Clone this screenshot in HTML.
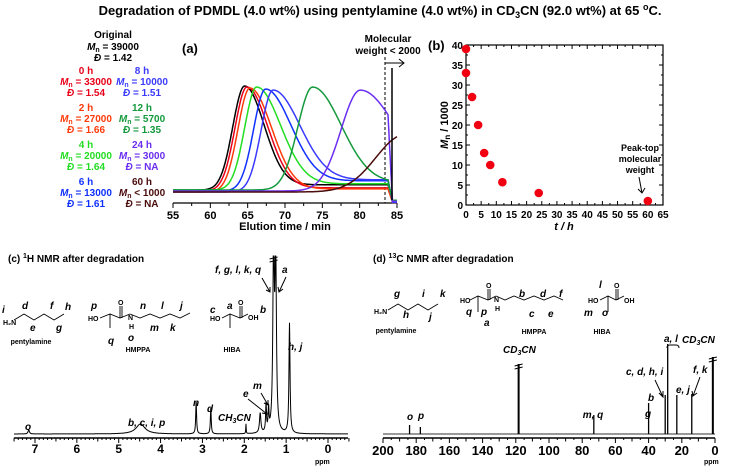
<!DOCTYPE html>
<html><head><meta charset="utf-8"><style>
html,body{margin:0;padding:0;background:#fff;}
svg{display:block;font-family:"Liberation Sans",Arial,sans-serif;font-weight:bold;}
.it{font-style:italic;}
</style></head><body>
<svg id="fig" width="734" height="473" viewBox="0 0 734 473" xmlns="http://www.w3.org/2000/svg">
<text x="380" y="15" font-size="13" text-anchor="middle">Degradation of PDMDL (4.0 wt%) using pentylamine (4.0 wt%) in CD<tspan font-size="9" dy="3">3</tspan><tspan dy="-3">CN (92.0 wt%) at 65 </tspan><tspan font-size="9" dy="-5">o</tspan><tspan dy="5">C.</tspan></text>

<g id="legendA" font-size="10" text-anchor="middle">
<text x="113" y="38">Original</text>
<text x="113" y="50"><tspan class="it">M</tspan><tspan font-size="7" dy="2">n</tspan><tspan dy="-2"> = 39000</tspan></text>
<text x="113" y="61"><tspan class="it">Đ</tspan> = 1.42</text>
<g fill="#e8001a"><text x="86" y="74">0 h</text><text x="86" y="85"><tspan class="it">M</tspan><tspan font-size="7" dy="2">n</tspan><tspan dy="-2"> = 33000</tspan></text><text x="86" y="96"><tspan class="it">Đ</tspan> = 1.54</text></g>
<g fill="#ff3a0a"><text x="86" y="111">2 h</text><text x="86" y="122"><tspan class="it">M</tspan><tspan font-size="7" dy="2">n</tspan><tspan dy="-2"> = 27000</tspan></text><text x="86" y="133"><tspan class="it">Đ</tspan> = 1.66</text></g>
<g fill="#22dd22"><text x="86" y="148">4 h</text><text x="86" y="159"><tspan class="it">M</tspan><tspan font-size="7" dy="2">n</tspan><tspan dy="-2"> = 20000</tspan></text><text x="86" y="170"><tspan class="it">Đ</tspan> = 1.64</text></g>
<g fill="#1030ff"><text x="86" y="185">6 h</text><text x="86" y="196"><tspan class="it">M</tspan><tspan font-size="7" dy="2">n</tspan><tspan dy="-2"> = 13000</tspan></text><text x="86" y="207"><tspan class="it">Đ</tspan> = 1.61</text></g>
<g fill="#3a3aff"><text x="142" y="74">8 h</text><text x="142" y="85"><tspan class="it">M</tspan><tspan font-size="7" dy="2">n</tspan><tspan dy="-2"> = 10000</tspan></text><text x="142" y="96"><tspan class="it">Đ</tspan> = 1.51</text></g>
<g fill="#139a3c"><text x="142" y="111">12 h</text><text x="142" y="122"><tspan class="it">M</tspan><tspan font-size="7" dy="2">n</tspan><tspan dy="-2"> = 5700</tspan></text><text x="142" y="133"><tspan class="it">Đ</tspan> = 1.35</text></g>
<g fill="#6a2ef0"><text x="142" y="148">24 h</text><text x="142" y="159"><tspan class="it">M</tspan><tspan font-size="7" dy="2">n</tspan><tspan dy="-2"> = 3000</tspan></text><text x="142" y="170"><tspan class="it">Đ</tspan> = NA</text></g>
<g fill="#4a0c0c"><text x="142" y="185">60 h</text><text x="142" y="196"><tspan class="it">M</tspan><tspan font-size="7" dy="2">n</tspan><tspan dy="-2"> &lt; 1000</tspan></text><text x="142" y="207"><tspan class="it">Đ</tspan> = NA</text></g>
</g>

<g id="chartA"></g>
<text x="182" y="53" font-size="13">(a)</text>
<text x="388" y="42" font-size="10" text-anchor="middle">Molecular</text>
<text x="388" y="54" font-size="10" text-anchor="middle">weight &lt; 2000</text>
<text x="285" y="230" font-size="11" text-anchor="middle">Elution time / min</text>

<g id="chartB"></g>
<text x="428" y="50" font-size="13">(b)</text>
<text x="564" y="230" font-size="11" text-anchor="middle" class="it">t / h</text>
<text transform="translate(448,125) rotate(-90)" font-size="11" text-anchor="middle"><tspan class="it">M</tspan><tspan font-size="8" dy="2">n</tspan><tspan dy="-2"> / 1000</tspan></text>
<text x="640" y="151" font-size="9" text-anchor="middle">Peak-top</text>
<text x="640" y="162" font-size="9" text-anchor="middle">molecular</text>
<text x="640" y="173" font-size="9" text-anchor="middle">weight</text>
<path d="M639,177 L642,193 M638,189 L642,193 L645,188" stroke="#000" fill="none" stroke-width="1"/>

<!-- panel c -->
<text x="8" y="262" font-size="10">(c) <tspan font-size="7" dy="-4">1</tspan><tspan dy="4">H NMR after degradation</tspan></text>
<g stroke="#000" fill="none" stroke-width="0.9">
<path d="M14,320 L24,314 L34,320 L44,314 L54,320 L64,314"/>
<path d="M100,318 L110,314 L120,318 L130,314 M110,314 L110,328 M120,318 L120,306 M122,318 L122,306 M130,314 L140,318 L150,314 L160,318 L170,314 L180,318 L190,313"/>
<path d="M222,318 L230,314 L240,318 L248,314 M230,314 L230,328 M240,318 L240,306 M242,318 L242,306"/>
</g>
<g font-size="7">
<text x="3" y="325">H₂N</text><text x="88" y="321">HO</text><text x="118" y="305">O</text><text x="128" y="320">N</text><text x="129" y="329">H</text>
<text x="210" y="321">HO</text><text x="238" y="305">O</text><text x="248" y="320">OH</text>
<text x="31" y="344" text-anchor="middle">pentylamine</text><text x="138" y="352" text-anchor="middle">HMPPA</text><text x="232" y="352" text-anchor="middle">HIBA</text>
</g>
<g font-size="10" class="it">
<text x="2" y="313">i</text><text x="22" y="309">d</text><text x="50" y="309">f</text><text x="65" y="310">h</text><text x="30" y="331">e</text><text x="56" y="331">g</text>
<text x="91" y="309">p</text><text x="108" y="344">q</text><text x="128" y="341">o</text><text x="140" y="309">n</text><text x="161" y="309">l</text><text x="180" y="309">j</text><text x="150" y="331">m</text><text x="170" y="331">k</text>
<text x="210" y="313">c</text><text x="227" y="309">a</text><text x="260" y="313">b</text>
<text x="215" y="273">f, g, l, k, q</text><text x="282" y="273">a</text><text x="288" y="350">h, j</text>
<text x="218" y="421">CH<tspan font-size="7" dy="2">3</tspan><tspan dy="-2">CN</tspan></text>
<text x="243" y="397">e</text><text x="253" y="389">m</text><text x="193" y="406">n</text><text x="207" y="412">d</text>
<text x="128" y="426">b, c, i, p</text><text x="25" y="430">o</text>
</g>
<path d="M262,278 L270,292 M266,290 L270,292 L270,287 M286,277 L279,292 M278,287 L279,292 L283,289 M248,399 L267,414 M262,413 L267,414 L266,409 M261,393 L268,405 M264,403 L268,405 L268,400" stroke="#000" fill="none"/>
<g id="chartC"></g>
<text x="315" y="464" font-size="7">ppm</text>

<!-- panel d -->
<text x="373" y="262" font-size="10">(d) <tspan font-size="7" dy="-4">13</tspan><tspan dy="4">C NMR after degradation</tspan></text>
<g stroke="#000" fill="none" stroke-width="0.9">
<path d="M388,310 L398,304 L408,310 L418,304 L428,310 L438,304"/>
<path d="M470,300 L478,296 L488,300 L496,296 M478,296 L478,312 M488,300 L488,289 M490,300 L490,289 M496,296 L505,300 L514,296 L524,300 L534,296 L544,300 L554,296 L563,300"/>
<path d="M600,300 L608,296 L616,300 L624,296 M608,296 L608,312 M616,300 L616,289 M618,300 L618,289"/>
</g>
<g font-size="7">
<text x="374" y="314">H₂N</text><text x="460" y="303">HO</text><text x="486" y="288">O</text><text x="494" y="302">N</text><text x="495" y="311">H</text>
<text x="588" y="303">HO</text><text x="614" y="288">O</text><text x="624" y="303">OH</text>
<text x="396" y="333" text-anchor="middle">pentylamine</text><text x="534" y="334" text-anchor="middle">HMPPA</text><text x="602" y="334" text-anchor="middle">HIBA</text>
</g>
<g font-size="10" class="it">
<text x="394" y="297">g</text><text x="422" y="297">i</text><text x="440" y="297">k</text><text x="403" y="318">h</text><text x="429" y="320">j</text>
<text x="466" y="315">q</text><text x="481" y="315">p</text><text x="484" y="326">a</text><text x="519" y="297">b</text><text x="540" y="297">d</text><text x="559" y="297">f</text><text x="529" y="317">c</text><text x="548" y="317">e</text>
<text x="599" y="288">l</text><text x="584" y="316">m</text><text x="602" y="316">o</text>
<text x="503" y="353">CD<tspan font-size="7" dy="2">3</tspan><tspan dy="-2">CN</tspan></text>
<text x="410" y="420" text-anchor="middle">o</text><text x="421" y="419" text-anchor="middle">p</text><text x="593" y="418" text-anchor="middle">m, q</text><text x="645" y="417">g</text><text x="648" y="401">b</text>
<text x="626" y="375">c, d, h, i</text><text x="664" y="342">a, l</text><text x="676" y="393">e, j</text><text x="693" y="373">f, k</text>
<text x="682" y="343">CD<tspan font-size="7" dy="2">3</tspan><tspan dy="-2">CN</tspan></text>
</g>
<path d="M655,380 L663,397 M659,393 L663,397 L663,391 M700,377 L693,396 M692,391 L693,396 L697,393 M667,348 Q667,345 670,345 L676,345 Q679,345 679,348" stroke="#000" fill="none"/>
<g id="chartD"></g>
<text x="704" y="464" font-size="7">ppm</text>
</svg>
<script>
// ---------- chart A data ----------
const seriesNames = ["original","0h","2h","4h","6h","8h","12h","24h","60h"];
const seriesColors = ["#000000","#e8001a","#ff3a0a","#22dd22","#1030ff","#3a3aff","#139a3c","#6a2ef0","#4a0c0c"];
const peakTimes = [64.6,64.9,65.3,66.2,67.4,68.4,73.7,80.1,86.0];
const peakHeights = [1.0,1.0,1.0,0.99,0.98,0.98,0.99,0.97,0.55];
const sigmaLeft = [1.6,1.6,1.6,1.6,1.6,1.6,2.0,2.6,3.8];
const sigmaRight = [2.6,2.8,2.9,3.2,3.4,3.6,3.8,4.5,2.0];
const tailLevels = [0.05,0.03,0.03,0.06,0.1,0.12,0.07,0.15,0];
const xTicksA = [55,60,65,70,75,80,85];
// ---------- chart B data ----------
const timesB = [0,0,2,4,6,8,12,24,60];
const mnB = [39,33,27,20,13,10,5.7,3,1];
const xTicksB = [0,5,10,15,20,25,30,35,40,45,50,55,60,65];
const yTicksB = [0,5,10,15,20,25,30,35,40];
// ---------- chart C data ----------
const hShifts = [7.15,4.48,3.15,2.80,1.96,1.62,1.48,1.42,1.30,1.25,0.92];
const hHeights = [4,10,33,26,10,20,28,22,185,175,110];
const hWidths = [0.02,0.13,0.012,0.012,0.006,0.02,0.012,0.012,0.02,0.02,0.015];
const xTicksC = [7,6,5,4,3,2,1,0];
// ---------- chart D data ----------
const cShifts = [184,177.5,118.3,73,40,30,28.5,23,14,1.3];
const cHeights = [9,7,70,19,31,39,90,39,40,77];
const xTicksD = [200,180,160,140,120,100,80,60,40,20,0];

const NS="http://www.w3.org/2000/svg";
function mk(tag,attrs,parent){const e=document.createElementNS(NS,tag);for(const k in attrs)e.setAttribute(k,attrs[k]);parent.appendChild(e);return e;}

// ===== Chart A =====
(function(){
const g=document.getElementById('chartA');
const xA=t=>173+(t-55)*(397-173)/30;
const base=190, amp=104;
const yA=v=>base-v*amp;
mk('line',{x1:173,y1:203,x2:397,y2:203,stroke:'#000','stroke-width':1.2},g);
for(let t=55;t<=85.01;t+=2.5){const major=Math.abs(t%5)<0.01;mk('line',{x1:xA(t),y1:203,x2:xA(t),y2:major?208:206,stroke:'#000'},g);}
xTicksA.forEach(t=>{const tx=mk('text',{x:xA(t),y:219,'font-size':11,'text-anchor':'middle'},g);tx.textContent=t;

});
mk('line',{x1:385,y1:57,x2:385,y2:203,stroke:'#000','stroke-dasharray':'3,2'},g);
mk('path',{d:'M385,63 L404,63 M399,59 L404,63 L399,67',stroke:'#000',fill:'none'},g);
for(let i=0;i<seriesNames.length;i++){
 let d='';
 for(let t=55;t<=85;t+=0.1){
  const dt=t-peakTimes[i];let v;
  if(dt<0)v=peakHeights[i]*Math.exp(-dt*dt/(2*sigmaLeft[i]*sigmaLeft[i]));
  else v=peakHeights[i]*((1-tailLevels[i])*Math.exp(-dt*dt/(2*sigmaRight[i]*sigmaRight[i]))+tailLevels[i]);
  if(i<8 && t>83.8) v=v*Math.max(0,1-(t-83.8)/0.6)-0.1*Math.min(1,(t-83.8)/0.6);
  const y=yA(v)+(i%3)*1;
  d+=(d?'L':'M')+xA(t).toFixed(1)+','+y.toFixed(1);
 }
 const p=mk('path',{d:d,stroke:seriesColors[i],fill:'none','stroke-width':1.5},g);
 
 
}
mk('line',{x1:392,y1:68,x2:392,y2:200,stroke:'#000','stroke-width':1.5},g);
})();

// ===== Chart B =====
(function(){
const g=document.getElementById('chartB');
const X0=466,X1=663,Y0=205,Y1=45;
const xB=t=>X0+t*(X1-X0)/65, yB=v=>Y0-v*(Y0-Y1)/40;
mk('rect',{x:X0,y:Y1,width:X1-X0,height:Y0-Y1,fill:'none',stroke:'#000','stroke-width':1.2},g);
for(let t=0;t<=65;t+=2.5){const m=t%5===0;mk('line',{x1:xB(t),y1:Y0,x2:xB(t),y2:Y0-(m?4:2),stroke:'#000'},g);mk('line',{x1:xB(t),y1:Y1,x2:xB(t),y2:Y1+(m?4:2),stroke:'#000'},g);}
for(let v=0;v<=40;v+=2.5){const m=v%5===0;mk('line',{x1:X0,y1:yB(v),x2:X0+(m?4:2),y2:yB(v),stroke:'#000'},g);mk('line',{x1:X1,y1:yB(v),x2:X1-(m?4:2),y2:yB(v),stroke:'#000'},g);}
xTicksB.forEach(t=>{const tx=mk('text',{x:xB(t),y:218,'font-size':10,'text-anchor':'middle'},g);tx.textContent=t;

});
yTicksB.forEach(v=>{const tx=mk('text',{x:X0-3,y:yB(v)+4,'font-size':10,'text-anchor':'end'},g);tx.textContent=v;

});
for(let i=0;i<timesB.length;i++){
 const c=mk('circle',{cx:xB(timesB[i]),cy:yB(mnB[i]),r:4.3,fill:'#f00010'},g);
 
 
}
})();

// ===== Chart C =====
(function(){
const g=document.getElementById('chartC');
const xC=p=>328-p*(328-35)/7;
const base=434;
mk('line',{x1:14,y1:438,x2:348,y2:438,stroke:'#000','stroke-width':1.5},g);
for(let p=-0.5;p<=7.5;p+=0.1){const r=Math.round(p*10);const m=r%10===0,h=r%5===0;mk('line',{x1:xC(p),y1:438,x2:xC(p),y2:438+(m?5:h?3.5:2),stroke:'#000'},g);}
xTicksC.forEach(p=>{const tx=mk('text',{x:xC(p),y:453,'font-size':12,'text-anchor':'middle'},g);tx.textContent=p;

});
let d='';
for(let px=14;px<=348;px+=0.25){
 const p=(328-px)*7/(328-35);let v=0;
 for(let i=0;i<hShifts.length;i++){const w=hWidths[i];const dd=(p-hShifts[i])/w;v+=hHeights[i]/(1+dd*dd);}
 v=Math.min(v,178);
 d+=(d?'L':'M')+px.toFixed(2)+','+(base-v).toFixed(1);
}
const sp=mk('path',{d:d,stroke:'#000',fill:'none','stroke-width':1},g);


mk('path',{d:'M'+(xC(1.3)-4)+',259 l8,-2 M'+(xC(1.3)-4)+',262 l8,-2',stroke:'#000'},g);
})();

// ===== Chart D =====
(function(){
const g=document.getElementById('chartD');
const xD=p=>715-p*(715-383)/200;
const base=434;
mk('line',{x1:383,y1:438,x2:715,y2:438,stroke:'#000','stroke-width':1.5},g);
for(let p=0;p<=200;p+=5){const m=p%20===0,h=p%10===0;mk('line',{x1:xD(p),y1:438,x2:xD(p),y2:438+(m?5:h?3.5:2),stroke:'#000'},g);}
xTicksD.forEach(p=>{const tx=mk('text',{x:xD(p),y:455,'font-size':13,'text-anchor':'middle'},g);tx.textContent=p;

});
mk('line',{x1:383,y1:base,x2:715,y2:base,stroke:'#333','stroke-width':1},g);
for(let i=0;i<cShifts.length;i++){
 const l=mk('line',{x1:xD(cShifts[i]),y1:base,x2:xD(cShifts[i]),y2:base-cHeights[i],stroke:'#000','stroke-width':(i===2||i===9)?2:1.3},g);
 
 
}
[2,9].forEach(i=>{const x=xD(cShifts[i]);mk('path',{d:'M'+(x-4)+','+(base-cHeights[i]+2)+' l8,-2 M'+(x-4)+','+(base-cHeights[i]+5)+' l8,-2',stroke:'#000'},g);});
})();
</script>
</body></html>
